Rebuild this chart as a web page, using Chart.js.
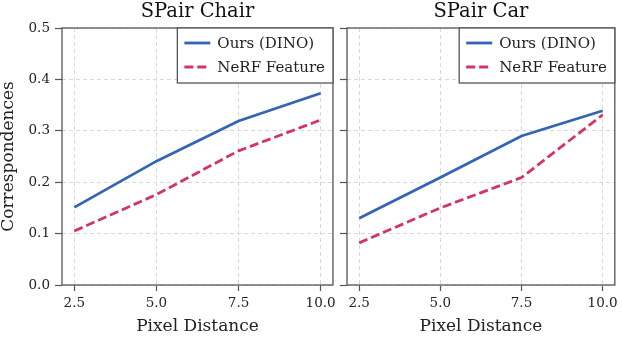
<!DOCTYPE html>
<html>
<head>
<meta charset="utf-8">
<script src="https://cdn.jsdelivr.net/npm/chart.js@4.4.1/dist/chart.umd.min.js"></script>
<style>
  html, body { margin: 0; padding: 0; background: #fff; }
  #wrap { position: relative; width: 622px; height: 339px; }
  .box { position: absolute; top: 0; height: 339px; }
  #leftBox { left: 0; width: 340px; }
  #rightBox { left: 340px; width: 282px; }
</style>
</head>
<body>
<div id="wrap">
  <div class="box" id="leftBox"><canvas id="chairChart"></canvas></div>
  <div class="box" id="rightBox"><canvas id="carChart"></canvas></div>
</div>
<script>
// data
const pixelDistance = [2.5, 5.0, 7.5, 10.0];
const chairOurs = [0.151, 0.241, 0.319, 0.373];
const chairNerf = [0.105, 0.176, 0.261, 0.321];
const carOurs = [0.130, 0.209, 0.290, 0.339];
const carNerf = [0.082, 0.150, 0.209, 0.331];
const xTickValues = [2.5, 5.0, 7.5, 10.0];
const seriesLabels = ['Ours (DINO)', 'NeRF Feature'];

const SERIF = "'DejaVu Serif', serif";
const BLUE = '#3464b4';
const PINK = '#d33468';
const FRAME = '#555555';
const GRID = '#d8d8e2';

const toPoints = ys => pixelDistance.map((x, i) => ({ x: x, y: ys[i] }));

// box around the plot area
const framePlugin = {
  id: 'frame',
  afterDatasetsDraw(chart) {
    const { left, top, right, bottom } = chart.chartArea;
    const ctx = chart.ctx;
    ctx.save();
    ctx.strokeStyle = FRAME;
    ctx.lineWidth = 1.3;
    ctx.strokeRect(left, top, right - left, bottom - top);
    ctx.restore();
  }
};

// legend drawn inside the plot, upper right
const innerLegend = {
  id: 'innerLegend',
  afterDraw(chart) {
    const ctx = chart.ctx;
    const { right, top } = chart.chartArea;
    ctx.save();
    ctx.font = '15px ' + SERIF;
    const ds = chart.data.datasets;
    const textW = Math.max(...ds.map(d => ctx.measureText(d.label).width));
    const w = 7 + 26 + 7 + textW + 8;
    const h = 55;
    const x0 = right - w;
    ctx.fillStyle = '#fff';
    ctx.fillRect(x0, top, w, h);
    ctx.strokeStyle = FRAME;
    ctx.lineWidth = 1.3;
    ctx.strokeRect(x0, top, w, h);
    ds.forEach((d, i) => {
      const y = top + 15 + i * 24;
      ctx.beginPath();
      ctx.strokeStyle = d.borderColor;
      ctx.lineWidth = d.borderWidth;
      ctx.setLineDash(d.borderDash || []);
      ctx.moveTo(x0 + 7, y);
      ctx.lineTo(x0 + 33, y);
      ctx.stroke();
      ctx.setLineDash([]);
      ctx.fillStyle = '#222';
      ctx.textBaseline = 'middle';
      ctx.fillText(d.label, x0 + 40, y + 1);
    });
    ctx.restore();
  }
};

function makeChart(id, title, ours, nerf, showY, yWidth, padRight) {
  return new Chart(document.getElementById(id), {
    type: 'line',
    data: {
      datasets: [{
        label: seriesLabels[0],
        data: toPoints(ours),
        borderColor: BLUE,
        borderWidth: 2.8,
        pointRadius: 0,
        tension: 0
      }, {
        label: seriesLabels[1],
        data: toPoints(nerf),
        borderColor: PINK,
        borderWidth: 2.8,
        borderDash: [9, 4],
        pointRadius: 0,
        tension: 0
      }]
    },
    options: {
      responsive: true,
      maintainAspectRatio: false,
      animation: false,
      layout: { padding: { left: 0, right: padRight, top: 0, bottom: 0 } },
      plugins: {
        legend: { display: false },
        tooltip: { enabled: false },
        title: {
          display: true,
          text: title,
          fullSize: false,
          color: '#111',
          font: { family: SERIF, size: 19.5, weight: 'normal' },
          padding: { top: 0, bottom: 4.6 }
        }
      },
      scales: {
        x: {
          type: 'linear',
          min: 2.125,
          max: 10.375,
          afterBuildTicks: s => { s.ticks = xTickValues.map(v => ({ value: v })); },
          afterFit: s => { s.height = 54; },
          ticks: {
            color: '#222',
            font: { family: SERIF, size: 13.5 },
            padding: 4,
            maxRotation: 0,
            callback: v => Number(v).toFixed(1)
          },
          grid: { color: GRID, tickColor: FRAME, tickLength: 6, tickWidth: 1.2 },
          border: { display: false, dash: [4, 3] },
          title: {
            display: true,
            text: 'Pixel Distance',
            color: '#222',
            font: { family: SERIF, size: 17 },
            padding: { top: 0, bottom: 2 }
          }
        },
        y: {
          min: 0,
          max: 0.5,
          afterFit: s => { s.width = yWidth; },
          ticks: {
            display: showY,
            stepSize: 0.1,
            color: '#222',
            font: { family: SERIF, size: 13.5 },
            padding: 5,
            callback: v => Number(v).toFixed(1)
          },
          grid: { color: GRID, tickColor: FRAME, tickLength: 7, tickWidth: 1.2 },
          border: { display: false, dash: [4, 3] },
          title: {
            display: showY,
            text: 'Correspondences',
            color: '#222',
            font: { family: SERIF, size: 17, lineHeight: 1.0 },
            padding: { top: 0, bottom: 0 }
          }
        }
      }
    },
    plugins: [framePlugin, innerLegend]
  });
}

makeChart('chairChart', 'SPair Chair', chairOurs, chairNerf, true, 62, 7);
makeChart('carChart', 'SPair Car', carOurs, carNerf, false, 7, 5);
</script>
</body>
</html>
